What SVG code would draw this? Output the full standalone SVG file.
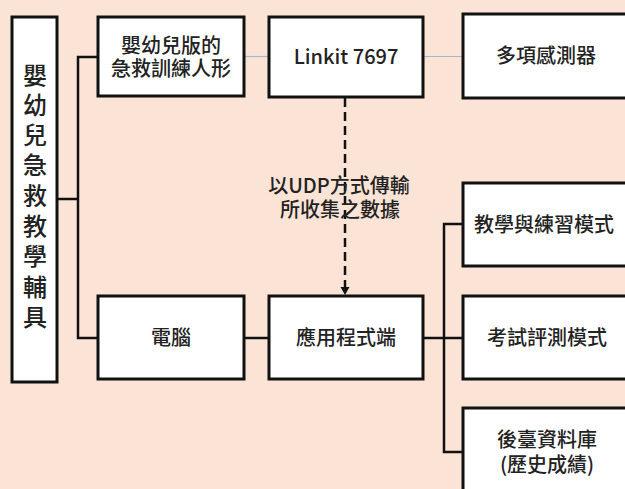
<svg xmlns="http://www.w3.org/2000/svg" width="625" height="489" viewBox="0 0 625 489">
<defs>
<style>
.box{fill:#ffffff;stroke:#111111;stroke-width:3}
.t{font-family:"Noto Sans CJK TC","Noto Sans",sans-serif;font-size:20px;font-weight:500;fill:#222222;text-anchor:middle}
.v{font-size:24px}
.ln{fill:none;stroke:#111111;stroke-width:2.5}
.thin{fill:none;stroke:#a3b8cc;stroke-width:1.2}
.dash{fill:none;stroke:#111111;stroke-width:2.5;stroke-dasharray:9 5}
</style>
</defs>
<rect x="0" y="0" width="625" height="489" fill="#fbe4d6"/>
<g id="connectors">
<polyline class="ln" points="57,199 78,199"/>
<polyline class="ln" points="98,57 78,57 78,338 98,338"/>
<line class="thin" x1="244" y1="56.5" x2="269" y2="56.5"/>
<line class="thin" x1="423" y1="56.5" x2="463" y2="56.5"/>
<line class="ln" x1="244" y1="338" x2="269" y2="338"/>
<line class="ln" x1="423" y1="338" x2="463" y2="338"/>
<polyline class="ln" points="463,224 444,224 444,452 463,452"/>
<line class="dash" x1="345" y1="98" x2="345" y2="288"/>
<path d="M340.5,287 L349.5,287 L345,295 Z" fill="#111111"/>
</g>
<g id="n-root">
<rect class="box" x="12" y="17" width="45" height="365"/>
<text class="t v" x="35" y="84">嬰</text>
<text class="t v" x="35" y="114">幼</text>
<text class="t v" x="35" y="144">兒</text>
<text class="t v" x="35" y="174">急</text>
<text class="t v" x="35" y="205">救</text>
<text class="t v" x="35" y="235">教</text>
<text class="t v" x="35" y="265">學</text>
<text class="t v" x="35" y="296">輔</text>
<text class="t v" x="35" y="326">具</text>
</g>
<g id="n-doll">
<rect class="box" x="98" y="17" width="146" height="79"/>
<text class="t" x="171" y="53">嬰幼兒版的</text>
<text class="t" x="171" y="76">急救訓練人形</text>
</g>
<g id="n-linkit">
<rect class="box" x="269" y="17" width="154" height="80"/>
<text class="t" x="346" y="64">Linkit 7697</text>
</g>
<g id="n-sensor">
<rect class="box" x="463" y="14" width="170" height="84"/>
<text class="t" x="546" y="63">多項感測器</text>
</g>
<g id="n-pc">
<rect class="box" x="98" y="296" width="146" height="83"/>
<text class="t" x="171" y="345">電腦</text>
</g>
<g id="n-app">
<rect class="box" x="269" y="296" width="154" height="83"/>
<text class="t" x="346" y="345">應用程式端</text>
</g>
<g id="n-teach">
<rect class="box" x="463" y="183" width="170" height="83"/>
<text class="t" x="544" y="232">教學與練習模式</text>
</g>
<g id="n-exam">
<rect class="box" x="463" y="296" width="170" height="83"/>
<text class="t" x="547" y="345">考試評測模式</text>
</g>
<g id="n-db">
<rect class="box" x="463" y="408" width="170" height="90"/>
<text class="t" x="547" y="447">後臺資料庫</text>
<text class="t" x="547" y="472">(歷史成績)</text>
</g>
<g id="label">
<text class="t" x="339" y="193">以UDP方式傳輸</text>
<text class="t" x="340" y="217">所收集之數據</text>
</g>
</svg>
